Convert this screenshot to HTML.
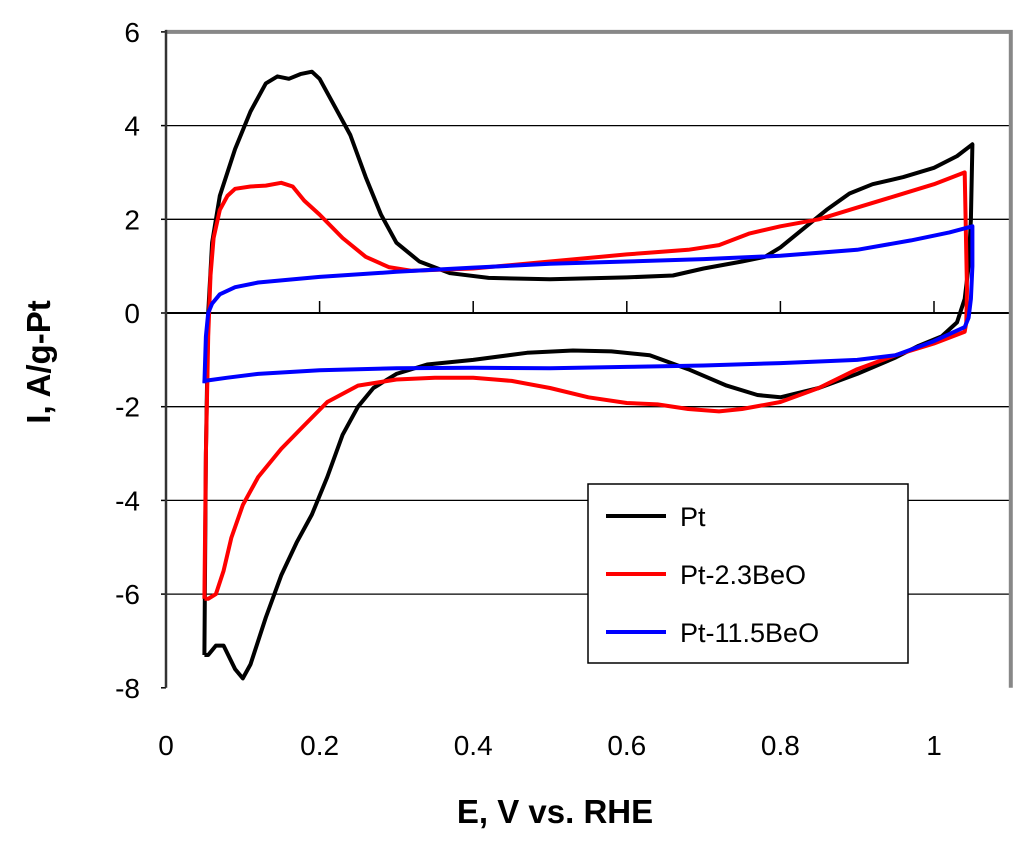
<!DOCTYPE html>
<html><head><meta charset="utf-8"><style>
body{margin:0;background:#fff;}
svg text{font-family:"Liberation Sans",Arial,sans-serif;}
</style></head><body>
<svg id="chart" width="1024" height="839" xmlns="http://www.w3.org/2000/svg">
<g id="grid"></g>
<g id="series"></g>
<g id="axes"></g>
<text x="555" y="823" font-size="33" font-weight="bold" text-anchor="middle">E, V vs. RHE</text>
<text transform="translate(50,362) rotate(-90)" font-size="33" font-weight="bold" text-anchor="middle">I, A/g-Pt</text>
<g>
<rect x="588" y="484" width="320" height="179" fill="#fff" stroke="#000" stroke-width="1.5"/>
<g><line x1="606" y1="516" x2="666" y2="516" stroke="#000" stroke-width="4"/><text x="680" y="526" font-size="27">Pt</text></g>
<g><line x1="606" y1="574" x2="666" y2="574" stroke="#f00" stroke-width="4"/><text x="680" y="584" font-size="27">Pt-2.3BeO</text></g>
<g><line x1="606" y1="632" x2="666" y2="632" stroke="#00f" stroke-width="4"/><text x="680" y="642" font-size="27">Pt-11.5BeO</text></g>
</g>
</svg>
<script>
const xTicks=[0,0.2,0.4,0.6,0.8,1];
const xTickLabels=["0","0.2","0.4","0.6","0.8","1"];
const yTicks=[-8,-6,-4,-2,0,2,4,6];
const yTickLabels=["-8","-6","-4","-2","0","2","4","6"];
const ptE=[0.05,0.052,0.055,0.06,0.07,0.09,0.11,0.13,0.145,0.16,0.175,0.19,0.2,0.22,0.24,0.26,0.28,0.30,0.33,0.37,0.42,0.5,0.6,0.66,0.7,0.75,0.78,0.8,0.83,0.86,0.89,0.92,0.96,1.0,1.03,1.05,1.048,1.045,1.04,1.03,1.01,0.98,0.95,0.9,0.85,0.8,0.77,0.73,0.68,0.63,0.58,0.53,0.47,0.4,0.34,0.3,0.27,0.25,0.23,0.21,0.19,0.17,0.15,0.13,0.11,0.1,0.09,0.075,0.065,0.055,0.05];
const ptI=[-7.3,-3,0,1.5,2.5,3.5,4.3,4.9,5.05,5.0,5.1,5.15,5.0,4.4,3.8,2.9,2.1,1.5,1.1,0.85,0.75,0.72,0.76,0.8,0.95,1.1,1.2,1.4,1.8,2.2,2.55,2.75,2.9,3.1,3.35,3.6,2,1.0,0.3,-0.2,-0.5,-0.7,-0.95,-1.3,-1.6,-1.8,-1.75,-1.55,-1.2,-0.9,-0.82,-0.8,-0.85,-1.0,-1.1,-1.3,-1.6,-2.0,-2.6,-3.5,-4.3,-4.9,-5.6,-6.5,-7.5,-7.8,-7.6,-7.1,-7.1,-7.3,-7.3];
const redE=[0.05,0.052,0.055,0.058,0.062,0.07,0.08,0.09,0.11,0.13,0.15,0.165,0.18,0.2,0.23,0.26,0.29,0.32,0.4,0.5,0.6,0.68,0.72,0.76,0.8,0.85,0.9,0.95,1.0,1.04,1.043,1.042,1.04,1.0,0.95,0.9,0.85,0.8,0.75,0.72,0.68,0.64,0.6,0.55,0.5,0.45,0.4,0.35,0.3,0.25,0.21,0.18,0.15,0.12,0.1,0.085,0.075,0.065,0.055,0.05];
const redI=[-6.1,-3,-0.5,0.8,1.6,2.2,2.5,2.65,2.7,2.72,2.78,2.7,2.4,2.1,1.6,1.2,0.98,0.9,0.95,1.1,1.25,1.35,1.45,1.7,1.85,2.0,2.25,2.5,2.75,3.0,0.5,-0.2,-0.4,-0.65,-0.9,-1.2,-1.6,-1.9,-2.05,-2.1,-2.05,-1.95,-1.92,-1.8,-1.6,-1.45,-1.38,-1.38,-1.42,-1.55,-1.9,-2.4,-2.9,-3.5,-4.1,-4.8,-5.5,-6.0,-6.1,-6.1];
const blueE=[0.05,0.052,0.055,0.06,0.07,0.09,0.12,0.2,0.3,0.4,0.5,0.6,0.7,0.8,0.9,0.97,1.02,1.05,1.05,1.048,1.045,1.04,1.0,0.95,0.9,0.8,0.7,0.6,0.5,0.4,0.3,0.2,0.12,0.08,0.05,0.05];
const blueI=[-1.5,-0.5,0,0.2,0.4,0.55,0.65,0.77,0.88,0.97,1.05,1.1,1.15,1.22,1.35,1.55,1.72,1.85,1.0,0.3,-0.1,-0.3,-0.6,-0.9,-1.0,-1.07,-1.12,-1.15,-1.18,-1.17,-1.18,-1.22,-1.3,-1.38,-1.45,-1.5];

const NS="http://www.w3.org/2000/svg";
const X0=166,XS=768,Y0=313,YS=46.85;
function xs(v){return X0+v*XS;}
function ys(v){return Y0-v*YS;}
const grid=document.getElementById('grid'),axes=document.getElementById('axes'),ser=document.getElementById('series');
function mk(tag,attrs,parent){const e=document.createElementNS(NS,tag);for(const k in attrs)e.setAttribute(k,attrs[k]);parent.appendChild(e);return e;}
const xR=xs(1.1);
yTicks.forEach((t,i)=>{
  if(t!==-8&&t!==6){const l=mk('line',{x1:X0,x2:xR,y1:ys(t),y2:ys(t),stroke:'#000','stroke-width':t===0?2:1.3},grid);
  
  }
  const tk=mk('line',{x1:X0-5,x2:X0,y1:ys(t),y2:ys(t),stroke:'#000','stroke-width':1.5},axes);
  
  
  const tx=mk('text',{x:140,y:ys(t)+10,'font-size':28,'text-anchor':'end'},axes);
  tx.textContent=yTickLabels[i];
  
  
});
xTicks.forEach((t,i)=>{
  if(t>0){const tk=mk('line',{x1:xs(t),x2:xs(t),y1:ys(0)-12,y2:ys(0),stroke:'#000','stroke-width':1.5},axes);
  
  }
  const tx=mk('text',{x:xs(t),y:755,'font-size':28,'text-anchor':'middle'},axes);
  tx.textContent=xTickLabels[i];
  
  
});
const fr=mk('polyline',{points:`${X0},${ys(6)} ${xR},${ys(6)} ${xR},${ys(-8)}`,fill:'none',stroke:'#888','stroke-width':4},axes);


const ya=mk('line',{x1:X0,x2:X0,y1:ys(6)-2,y2:ys(-8),stroke:'#333','stroke-width':2.5},axes);


function draw(E,I,color,name){
  const p=mk('polyline',{points:E.map((e,i)=>xs(e).toFixed(1)+','+ys(I[i]).toFixed(1)).join(' '),fill:'none',stroke:color,'stroke-width':4,'stroke-linejoin':'round'},ser);
  
  
}
draw(ptE,ptI,'#000','series-pt');
draw(redE,redI,'#f00','series-pt-2.3beo');
draw(blueE,blueI,'#00f','series-pt-11.5beo');
</script>
</body></html>
